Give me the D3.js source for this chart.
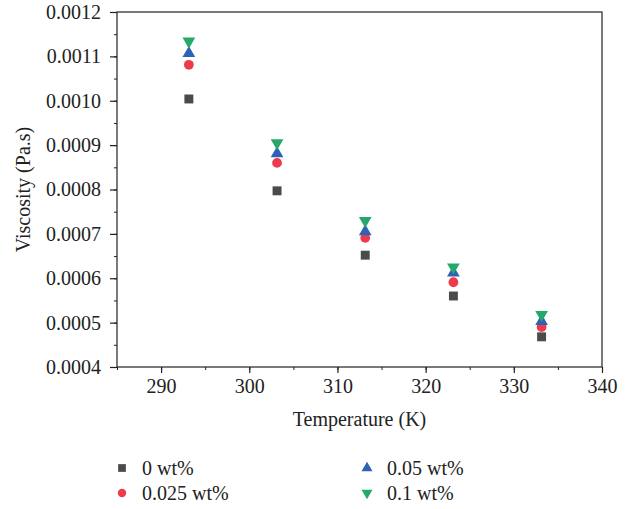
<!DOCTYPE html>
<html lang="en">
<head>
<meta charset="UTF-8">
<title>Viscosity vs Temperature</title>
<script src="https://cdn.jsdelivr.net/npm/d3@7"></script>
<style>
body { margin: 0; background: #fff; }
svg text { font-family: "Liberation Serif", "DejaVu Serif", serif; fill: #222; }
</style>
</head>
<body>
<svg width="636" height="509"></svg>
<script>
// data
var temps = [293.15, 303.15, 313.15, 323.15, 333.15];
var series = ['0 wt%', '0.025 wt%', '0.05 wt%', '0.1 wt%'];
var v0 = [0.001004, 0.000797, 0.000652, 0.000560, 0.000468];
var v025 = [0.001081, 0.000860, 0.000691, 0.000591, 0.000490];
var v05 = [0.001107, 0.000881, 0.000705, 0.000612, 0.000503];
var v1 = [0.001134, 0.000905, 0.000730, 0.000625, 0.000518];
var xTicks = [290, 300, 310, 320, 330, 340];
var yTicks = [0.0004, 0.0005, 0.0006, 0.0007, 0.0008, 0.0009, 0.0010, 0.0011, 0.0012];

var colors = ['#4b4b4b', '#ee3b4c', '#2d62b4', '#26a86a'];
var symbols = [d3.symbolSquare, d3.symbolCircle, d3.symbolTriangle, d3.symbolTriangle];
var allVals = [v0, v025, v05, v1];

var svg = d3.select('svg');
var pL = 117, pR = 602, pT = 12, pB = 367;

var x = d3.scaleLinear().domain([285, 340]).range([pL, pR]);
var y = d3.scaleLinear().domain([0.0004, 0.0012]).range([pB, pT]);

// frame
svg.append('rect')
    .attr('x', pL).attr('y', pT)
    .attr('width', pR - pL).attr('height', pB - pT)
    .attr('fill', 'none').attr('stroke', '#222').attr('stroke-width', 1.2);

// x axis
var gx = svg.append('g').attr('transform', 'translate(0,' + pB + ')');
gx.call(d3.axisBottom(x).tickValues(d3.range(285, 341, 5)).tickSize(3).tickFormat(''));
gx.select('.domain').remove();
gx.selectAll('line').attr('stroke', '#222');
var gxm = svg.append('g').attr('transform', 'translate(0,' + pB + ')');
gxm.call(d3.axisBottom(x).tickValues(xTicks).tickSize(6).tickPadding(6).tickFormat(d3.format('d')));
gxm.select('.domain').remove();
gxm.selectAll('line').attr('stroke', '#222').attr('stroke-width', 1.2);
gxm.selectAll('text').attr('font-size', 20).attr('font-family', '"Liberation Serif", serif').attr('fill', '#222');

// y axis
var gy = svg.append('g').attr('transform', 'translate(' + pL + ',0)');
gy.call(d3.axisLeft(y).tickValues(d3.range(0.0004, 0.00121, 0.00005)).tickSize(3).tickFormat(''));
gy.select('.domain').remove();
gy.selectAll('line').attr('stroke', '#222');
var gym = svg.append('g').attr('transform', 'translate(' + pL + ',0)');
gym.call(d3.axisLeft(y).tickValues(yTicks).tickSize(7).tickPadding(9).tickFormat(d3.format('.4f')));
gym.select('.domain').remove();
gym.selectAll('line').attr('stroke', '#222').attr('stroke-width', 1.2);
gym.selectAll('text').attr('font-size', 20).attr('font-family', '"Liberation Serif", serif').attr('fill', '#222');

// axis titles
svg.append('text')
    .attr('x', (pL + pR) / 2).attr('y', 426)
    .attr('text-anchor', 'middle').attr('font-size', 20)
    .text('Temperature (K)');
svg.append('text')
    .attr('transform', 'translate(30,' + (pT + pB) / 2 + ') rotate(-90)')
    .attr('text-anchor', 'middle').attr('font-size', 20)
    .text('Viscosity (Pa.s)');

function markerTransform(i, cx, cy) {
    return 'translate(' + cx + ',' + cy + ')' + (i == 3 ? ' rotate(180)' : '');
}
var sizes = [80, 75, 70, 70];

// points
allVals.forEach(function(vals, i) {
    svg.append('g').selectAll('path')
        .data(vals)
        .enter()
        .append('path')
        .attr('d', d3.symbol().type(symbols[i]).size(sizes[i]))
        .attr('fill', colors[i])
        .attr('transform', function(d, j) {
            return markerTransform(i, x(temps[j]), y(d));
        });
});

// legend
var legPos = [[122, 468], [122, 493], [367, 468], [367, 493]];
series.forEach(function(s, i) {
    var p = legPos[i];
    svg.append('path')
        .attr('d', d3.symbol().type(symbols[i]).size(sizes[i] * 0.75))
        .attr('fill', colors[i])
        .attr('transform', markerTransform(i, p[0], p[1]));
    svg.append('text')
        .attr('x', p[0] + 20).attr('y', p[1] + 7)
        .attr('font-size', 20)
        .text(s);
});
</script>
</body>
</html>
